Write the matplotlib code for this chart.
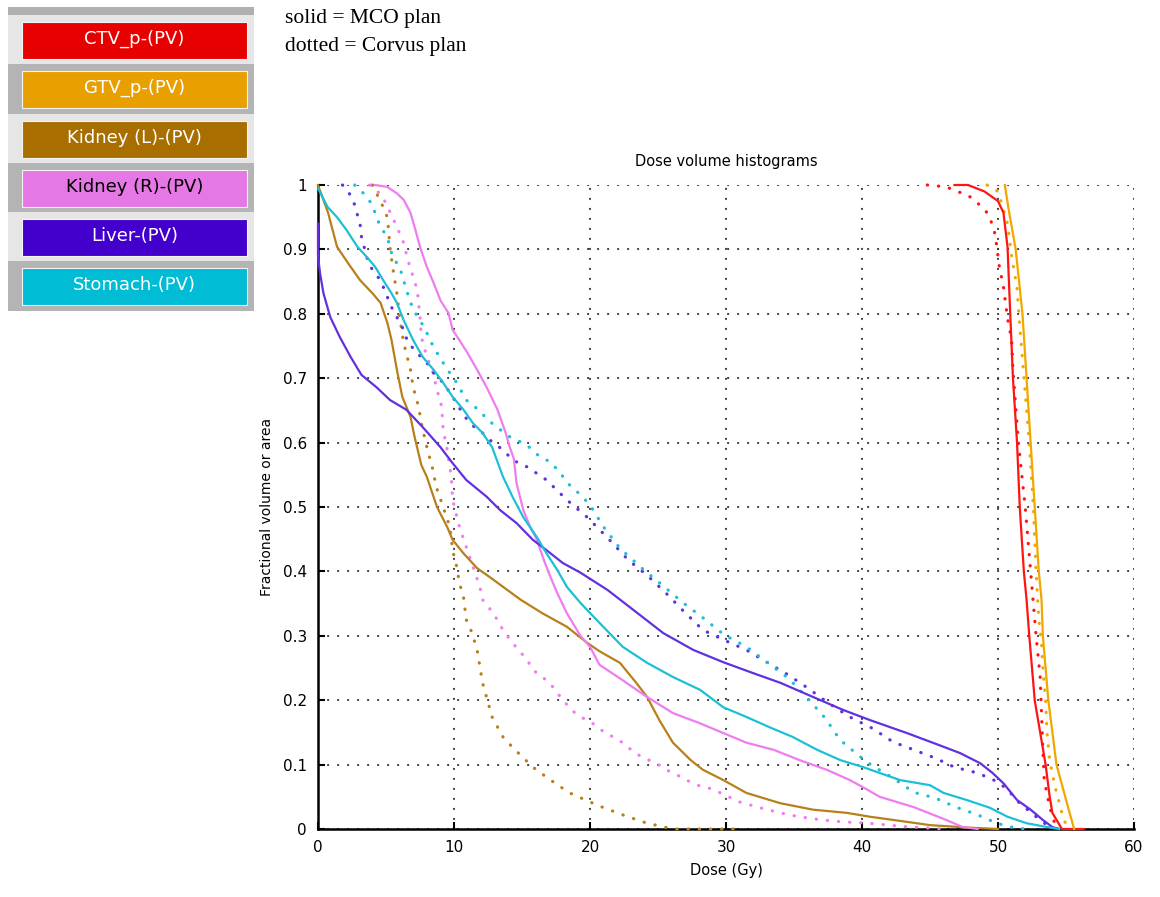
import numpy as np
import matplotlib
matplotlib.use("Agg")
import matplotlib.pyplot as plt
from matplotlib.patches import Rectangle

# structure names shown on the legend buttons
structures = ["CTV_p-(PV)", "GTV_p-(PV)", "Kidney (L)-(PV)",
              "Kidney (R)-(PV)", "Liver-(PV)", "Stomach-(PV)"]

# (dose Gy, fractional volume)
ctv_mco = [(46.8, 1.0), (47.8, 1.0), (49.0, 0.99), (50.0, 0.975), (50.4, 0.957),
           (50.7, 0.904), (50.9, 0.80), (51.1, 0.70), (51.4, 0.60), (51.6, 0.50),
           (51.9, 0.40), (52.1, 0.356), (52.3, 0.30), (52.7, 0.20), (53.5, 0.10),
           (53.8, 0.05), (54.0, 0.025), (54.7, 0.0), (56.3, 0.0)]
ctv_corvus = [(44.8, 1.0), (46.2, 0.997), (47.0, 0.99), (47.8, 0.984), (48.5, 0.972),
              (49.2, 0.957), (49.6, 0.938), (49.8, 0.922), (50.1, 0.873), (50.4, 0.842),
              (50.7, 0.793), (51.0, 0.76), (51.1, 0.713), (51.5, 0.60), (52.0, 0.50),
              (52.4, 0.40), (52.8, 0.30), (53.1, 0.236), (53.3, 0.123), (53.4, 0.076),
              (53.8, 0.034), (54.3, 0.0)]
gtv_mco = [(50.5, 1.0), (50.8, 0.96), (51.3, 0.90), (51.8, 0.80), (52.1, 0.70),
           (52.4, 0.60), (52.7, 0.50), (53.0, 0.40), (53.2, 0.356), (53.3, 0.30),
           (53.7, 0.20), (54.3, 0.10), (55.2, 0.03), (55.6, 0.0)]
gtv_corvus = [(49.2, 1.0), (50.0, 0.99), (50.7, 0.94), (51.0, 0.89), (51.4, 0.84),
              (51.6, 0.78), (51.8, 0.73), (52.3, 0.60), (52.6, 0.50), (52.8, 0.40),
              (53.0, 0.325), (53.2, 0.29), (53.3, 0.25), (53.5, 0.20), (53.6, 0.15),
              (53.8, 0.107), (54.2, 0.065), (54.7, 0.025), (55.1, 0.0)]
kidl_mco = [(0, 1.0), (0.74, 0.957), (1.4, 0.904), (2.2, 0.879), (3.1, 0.852),
            (4.0, 0.832), (4.6, 0.817), (5.1, 0.786), (5.4, 0.76), (5.8, 0.713),
            (6.2, 0.671), (6.8, 0.64), (7.1, 0.609), (7.6, 0.565), (8.0, 0.547),
            (8.75, 0.50), (9.5, 0.469), (9.9, 0.449), (10.7, 0.428), (11.7, 0.405),
            (12.9, 0.387), (14.9, 0.356), (16.5, 0.335), (18.3, 0.314), (19.8, 0.289),
            (20.7, 0.276), (22.2, 0.258), (23.4, 0.227), (24.2, 0.205), (25.1, 0.169),
            (26.1, 0.134), (27.4, 0.107), (28.3, 0.092), (29.8, 0.076), (31.5, 0.056),
            (34.0, 0.04), (36.4, 0.03), (38.9, 0.025), (40.6, 0.019), (43.0, 0.012),
            (45.0, 0.006), (48.0, 0.002), (50.0, 0.0)]
kidl_corvus = [(4.0, 1.0), (4.7, 0.97), (5.1, 0.95), (5.2, 0.927), (5.3, 0.902),
               (5.5, 0.871), (5.8, 0.832), (6.0, 0.795), (6.3, 0.755), (6.8, 0.713),
               (7.0, 0.686), (7.4, 0.655), (7.6, 0.63), (8.0, 0.593), (8.4, 0.562),
               (8.7, 0.531), (9.2, 0.50), (9.7, 0.469), (9.9, 0.433), (10.2, 0.407),
               (10.4, 0.382), (10.7, 0.36), (10.9, 0.325), (11.3, 0.306), (11.7, 0.278),
               (12.1, 0.227), (12.8, 0.174), (13.6, 0.143), (14.3, 0.127), (15.8, 0.096),
               (17.1, 0.076), (18.5, 0.056), (20.0, 0.042), (20.9, 0.034), (22.4, 0.022),
               (23.9, 0.011), (25.4, 0.003), (26.4, 0.0), (30.8, 0.0)]
kidr_mco = [(4.2, 1.0), (5.1, 0.997), (5.8, 0.987), (6.3, 0.977), (6.8, 0.957),
            (7.1, 0.935), (7.5, 0.904), (8.0, 0.873), (8.5, 0.848), (9.0, 0.821),
            (9.6, 0.801), (9.9, 0.775), (10.4, 0.759), (11.0, 0.739), (11.7, 0.713),
            (12.4, 0.686), (13.2, 0.651), (13.8, 0.615), (14.1, 0.593), (14.4, 0.575),
            (14.6, 0.537), (15.1, 0.495), (15.6, 0.469), (16.1, 0.449), (16.6, 0.418),
            (17.1, 0.391), (17.6, 0.366), (18.3, 0.335), (19.3, 0.30), (20.0, 0.283),
            (20.7, 0.255), (22.4, 0.231), (24.2, 0.205), (26.1, 0.18), (28.1, 0.164),
            (29.8, 0.149), (31.5, 0.134), (33.5, 0.123), (35.4, 0.107), (37.4, 0.092),
            (39.1, 0.076), (40.4, 0.061), (41.3, 0.05), (43.8, 0.034), (46.2, 0.014),
            (47.4, 0.003), (48.5, 0.0)]
kidr_corvus = [(3.8, 1.0), (4.7, 0.984), (5.3, 0.958), (5.8, 0.935), (6.3, 0.91),
               (6.6, 0.884), (7.0, 0.857), (7.3, 0.837), (7.5, 0.795), (7.6, 0.764),
               (8.0, 0.733), (8.4, 0.713), (8.75, 0.682), (9.1, 0.655), (9.2, 0.62),
               (9.5, 0.589), (9.8, 0.547), (9.9, 0.511), (10.4, 0.469), (10.9, 0.438),
               (11.4, 0.407), (11.9, 0.376), (12.1, 0.356), (12.9, 0.335), (13.6, 0.309),
               (14.3, 0.289), (15.4, 0.262), (15.8, 0.247), (16.8, 0.231), (17.3, 0.22),
               (18.0, 0.20), (18.8, 0.182), (19.5, 0.172), (20.2, 0.164), (21.0, 0.151),
               (21.7, 0.143), (22.4, 0.134), (23.3, 0.118), (24.0, 0.11), (24.9, 0.102),
               (25.6, 0.092), (26.4, 0.084), (27.1, 0.076), (27.9, 0.068), (28.7, 0.064),
               (29.6, 0.056), (31.0, 0.042), (32.5, 0.033), (34.0, 0.025), (35.4, 0.019),
               (37.1, 0.014), (38.6, 0.011), (40.4, 0.009), (43.0, 0.004), (46.0, 0.0)]
liver_mco = [(0, 0.94), (0, 0.89), (0.15, 0.863), (0.4, 0.832), (0.9, 0.795),
             (1.6, 0.764), (2.4, 0.733), (3.2, 0.705), (4.3, 0.686), (5.3, 0.666),
             (6.5, 0.651), (7.7, 0.624), (9.0, 0.593), (9.9, 0.568), (10.9, 0.542),
             (12.4, 0.516), (13.4, 0.495), (14.6, 0.475), (15.8, 0.449), (16.8, 0.433),
             (18.0, 0.413), (19.3, 0.398), (21.3, 0.371), (23.2, 0.34), (25.4, 0.304),
             (27.6, 0.278), (29.8, 0.259), (32.0, 0.242), (34.0, 0.227), (36.4, 0.205),
             (38.6, 0.185), (40.6, 0.169), (43.3, 0.149), (45.2, 0.134), (47.2, 0.118),
             (48.7, 0.102), (49.6, 0.087), (50.4, 0.071), (51.4, 0.045), (52.4, 0.03),
             (53.3, 0.014), (54.0, 0.003), (54.5, 0.0)]
liver_corvus = [(1.8, 1.0), (2.4, 0.984), (2.7, 0.969), (3.1, 0.938), (3.2, 0.919),
                (3.6, 0.887), (4.0, 0.868), (4.6, 0.852), (5.1, 0.826), (5.5, 0.806),
                (6.0, 0.787), (6.3, 0.775), (6.6, 0.756), (7.3, 0.739), (8.0, 0.724),
                (8.5, 0.708), (9.2, 0.693), (9.9, 0.671), (10.8, 0.64), (11.5, 0.624),
                (12.1, 0.615), (12.9, 0.599), (13.6, 0.589), (14.3, 0.573), (15.4, 0.562),
                (16.8, 0.542), (18.3, 0.511), (19.8, 0.484), (21.3, 0.452), (22.8, 0.418),
                (24.2, 0.394), (25.6, 0.366), (26.8, 0.34), (28.3, 0.309), (29.9, 0.293),
                (31.5, 0.278), (33.0, 0.259), (34.6, 0.239), (36.0, 0.219), (37.5, 0.196),
                (39.1, 0.174), (40.7, 0.157), (42.3, 0.135), (43.8, 0.123), (45.4, 0.11),
                (46.8, 0.096), (48.5, 0.087), (50.0, 0.073), (50.7, 0.061), (51.5, 0.042),
                (52.4, 0.026), (53.1, 0.014), (53.8, 0.003)]
stomach_mco = [(0, 0.995), (0.7, 0.966), (1.4, 0.95), (2.1, 0.93), (2.9, 0.904),
               (3.6, 0.888), (4.2, 0.873), (4.8, 0.852), (5.4, 0.832), (5.8, 0.817),
               (6.3, 0.79), (7.0, 0.759), (7.7, 0.733), (8.5, 0.713), (9.2, 0.693),
               (9.9, 0.671), (10.7, 0.651), (11.4, 0.63), (12.1, 0.615), (12.8, 0.593),
               (13.6, 0.547), (14.3, 0.516), (15.1, 0.484), (16.1, 0.453), (16.8, 0.428),
               (17.6, 0.402), (18.3, 0.376), (19.3, 0.351), (20.7, 0.32), (22.4, 0.283),
               (24.2, 0.258), (26.1, 0.236), (28.1, 0.216), (29.8, 0.189), (31.5, 0.174),
               (33.2, 0.158), (34.9, 0.143), (36.7, 0.123), (38.4, 0.107), (40.1, 0.096),
               (41.3, 0.087), (42.8, 0.076), (45.0, 0.068), (46.0, 0.056), (47.7, 0.045),
               (49.4, 0.033), (50.7, 0.019), (52.1, 0.009), (53.6, 0.003), (54.5, 0.0)]
stomach_corvus = [(2.7, 1.0), (3.5, 0.984), (4.0, 0.969), (4.3, 0.95), (4.6, 0.935),
                  (5.1, 0.919), (5.5, 0.887), (6.0, 0.873), (6.5, 0.837), (7.0, 0.806),
                  (7.5, 0.79), (7.9, 0.775), (8.5, 0.748), (9.2, 0.724), (9.7, 0.708),
                  (10.2, 0.693), (10.9, 0.666), (11.8, 0.651), (12.5, 0.635), (13.4, 0.62),
                  (14.1, 0.609), (14.9, 0.601), (15.6, 0.592), (16.3, 0.578), (17.1, 0.570),
                  (17.8, 0.553), (18.5, 0.534), (19.3, 0.519), (20.0, 0.503), (21.0, 0.469),
                  (22.2, 0.436), (23.7, 0.407), (25.3, 0.379), (26.8, 0.352), (28.3, 0.328),
                  (29.9, 0.301), (31.5, 0.283), (33.0, 0.259), (34.6, 0.234), (36.0, 0.203),
                  (37.3, 0.172), (38.4, 0.138), (40.0, 0.11), (40.7, 0.099), (42.3, 0.079),
                  (43.8, 0.057), (45.4, 0.048), (46.9, 0.034), (48.5, 0.022), (49.9, 0.009),
                  (51.0, 0.003), (52.0, 0.0)]

mco_curves = [ctv_mco, gtv_mco, kidl_mco, kidr_mco, liver_mco, stomach_mco]
corvus_curves = [ctv_corvus, gtv_corvus, kidl_corvus, kidr_corvus, liver_corvus, stomach_corvus]

line_colors = ["#ff1414", "#f0a800", "#b8801a", "#f07cf0", "#6230e0", "#1cc0d6"]
button_colors = ["#e60000", "#e8a000", "#a86e00", "#e678e6", "#4300cc", "#00bcd4"]
button_text = ["white", "white", "white", "black", "white", "white"]

W, H = 1160, 897
fig = plt.figure(figsize=(W / 100, H / 100), dpi=100)

ax = fig.add_axes([318 / W, 1 - 829 / H, 816 / W, 644 / H])
grid_style = dict(color="#333333", linestyle=(0, (0.1, 4.7)), linewidth=1.5,
                  dash_capstyle="round")
for curve, c in zip(corvus_curves, line_colors):
    d, v = np.array(curve).T
    ax.plot(d, v, color=c, linewidth=2.3, linestyle=(0, (0.1, 3.4)),
            dash_capstyle="round", clip_on=False, zorder=3)
for curve, c in zip(mco_curves, line_colors):
    d, v = np.array(curve).T
    ax.plot(d, v, color=c, linewidth=1.6, clip_on=False, zorder=4)

ax.set_xlim(0, 60)
ax.set_ylim(0, 1)
ax.set_xticks(np.arange(0, 61, 10))
ax.set_yticks(np.round(np.arange(0, 1.01, 0.1), 1))
ax.set_yticklabels(["0"] + [f"{t:.1f}" for t in np.arange(0.1, 0.95, 0.1)] + ["1"])
ax.grid(True, **grid_style)
for s in ["top", "right"]:
    ax.spines[s].set_visible(False)
for s in ["left", "bottom"]:
    ax.spines[s].set_linewidth(1.8)
ax.tick_params(direction="in", length=5, width=1.5, labelsize=11, pad=8)
ax.set_title("Dose volume histograms", fontsize=10.5, pad=14)
ax.set_xlabel("Dose (Gy)", fontsize=10.5, labelpad=6)
ax.set_ylabel("Fractional volume or area", fontsize=10, labelpad=6)

# legend button panel and plan note in pixel coordinates
ov = fig.add_axes([0, 0, 1, 1], zorder=-1)
ov.set_xlim(0, W)
ov.set_ylim(H, 0)
ov.axis("off")
ov.add_patch(Rectangle((8, 7), 246, 8, facecolor="#b0b0b0", edgecolor="none"))
row_h = 49.3
for i, (name, bc, tc) in enumerate(zip(structures, button_colors, button_text)):
    top = 15 + i * row_h
    bg = "#e6e6e6" if i % 2 == 0 else "#b4b4b4"
    ov.add_patch(Rectangle((8, top), 246, row_h, facecolor=bg, edgecolor="none"))
    ov.add_patch(Rectangle((22, top + 7), 225, 37, facecolor=bc,
                           edgecolor="#f4f4f4", linewidth=0.8))
    ov.text(134.5, top + 24, name, color=tc, fontsize=13, ha="center", va="center")

ov.text(285, 19, "solid = MCO plan", fontsize=15.5, family="Liberation Serif",
        va="center", ha="left")
ov.text(285, 46, "dotted = Corvus plan", fontsize=15.5, family="Liberation Serif",
        va="center", ha="left")

fig.savefig("out.png", dpi=100)
